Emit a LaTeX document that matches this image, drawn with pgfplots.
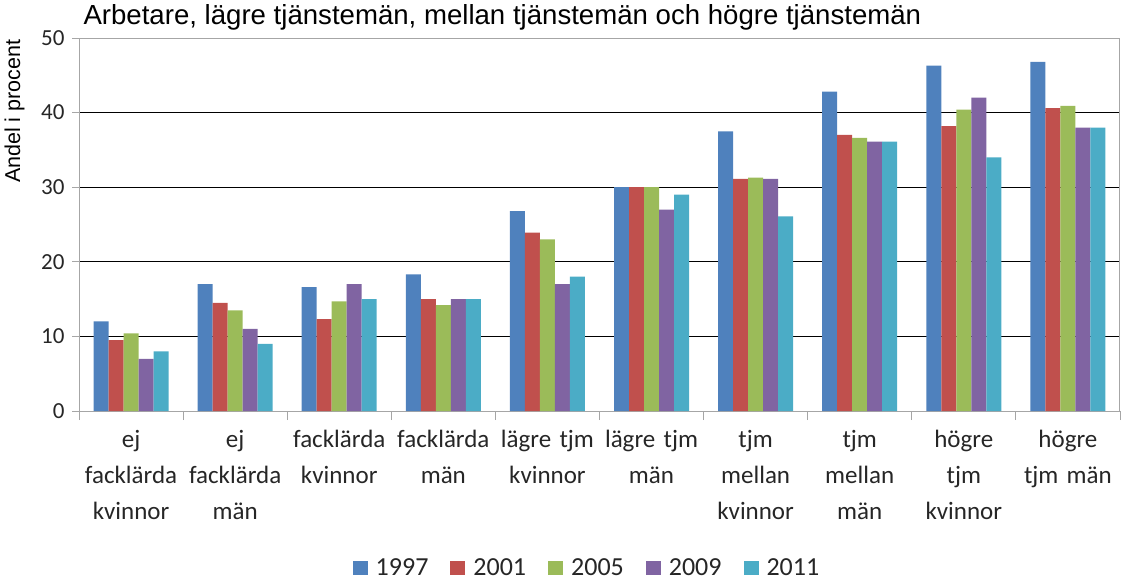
\documentclass[border=0pt]{standalone}
\usepackage{pgfplots}
\pgfplotsset{compat=1.18}
\usepackage{fontspec}
\setmainfont{Liberation Sans}
\newfontfamily\carl{Carlito}
\definecolor{c1}{HTML}{4F81BD}
\definecolor{c2}{HTML}{C0504D}
\definecolor{c3}{HTML}{9BBB59}
\definecolor{c4}{HTML}{8064A2}
\definecolor{c5}{HTML}{4BACC6}
\begin{document}
\begin{tikzpicture}
\begin{axis}[
  at={(79pt,167pt)}, anchor=south west,
  scale only axis, width=1041pt, height=373pt,
  ybar=0pt, bar width=15pt,
  xmin=-0.5, xmax=9.5, ymin=0, ymax=50,
  ytick={0,10,...,50},
  xtick={0,...,9},
  xticklabels={ej\\facklärda\\kvinnor, ej\\facklärda\\män, facklärda\\kvinnor, facklärda\\män, lägre tjm\\kvinnor, lägre tjm\\män, tjm\\mellan\\kvinnor, tjm\\mellan\\män, högre\\tjm\\kvinnor, högre\\tjm män},
  minor xtick={-0.5,0.5,...,9.5},
  tick align=outside, tick pos=left,
  major tick length=7pt, minor tick length=9pt,
  major x tick style={draw=none},
  minor x tick style={gray!70, line width=0.8pt},
  major y tick style={gray!70, line width=0.8pt},
  axis line style={gray!70, line width=1pt},
  ymajorgrids, major grid style={black, line width=0.8pt},
  /pgf/number format/assume math mode=true,
  yticklabel style={font=\carl\fontsize{23}{26}\selectfont, text=black!85, xshift=-4pt},
  xticklabel style={font=\carl\fontsize{25}{36}\selectfont, text=black!85, align=center, text width=110pt, yshift=-9pt},
  title={Arbetare, lägre tjänstemän, mellan tjänstemän och högre tjänstemän},
  title style={at={(0,1)}, anchor=base west, yshift=8pt, xshift=1pt, font=\fontsize{27.6}{30}\selectfont},
  ylabel={Andel i procent},
  every axis y label/.style={at={(rel axis cs:0,1)}, xshift=-51pt, yshift=2pt, rotate=90, anchor=south east, font=\fontsize{21.5}{24}\selectfont},
  legend columns=5,
  legend style={at={(0.488,-0.421)}, anchor=center, draw=none, font=\carl\fontsize{26}{28}\selectfont, text=black!85,
    /tikz/every odd column/.style={column sep=6pt},
    /tikz/every even column/.style={column sep=20pt}},
  legend image code/.code={\fill[#1] (0pt,-7pt) rectangle (15pt,7pt);},
]
\addplot[fill=c1, draw=none] coordinates {(0,12) (1,17) (2,16.6) (3,18.3) (4,26.8) (5,30) (6,37.5) (7,42.8) (8,46.3) (9,46.8)};
\addplot[fill=c2, draw=none] coordinates {(0,9.5) (1,14.5) (2,12.3) (3,15) (4,23.9) (5,30) (6,31.1) (7,37) (8,38.2) (9,40.6)};
\addplot[fill=c3, draw=none] coordinates {(0,10.4) (1,13.5) (2,14.7) (3,14.2) (4,23) (5,30) (6,31.3) (7,36.6) (8,40.4) (9,40.9)};
\addplot[fill=c4, draw=none] coordinates {(0,7) (1,11) (2,17) (3,15) (4,17) (5,27) (6,31.1) (7,36.1) (8,42) (9,38)};
\addplot[fill=c5, draw=none] coordinates {(0,8) (1,9) (2,15) (3,15) (4,18) (5,29) (6,26.1) (7,36.1) (8,34) (9,38)};
\legend{1997,2001,2005,2009,2011}
\end{axis}
\useasboundingbox (0,0) rectangle (1127pt,578pt);
\end{tikzpicture}
\end{document}
